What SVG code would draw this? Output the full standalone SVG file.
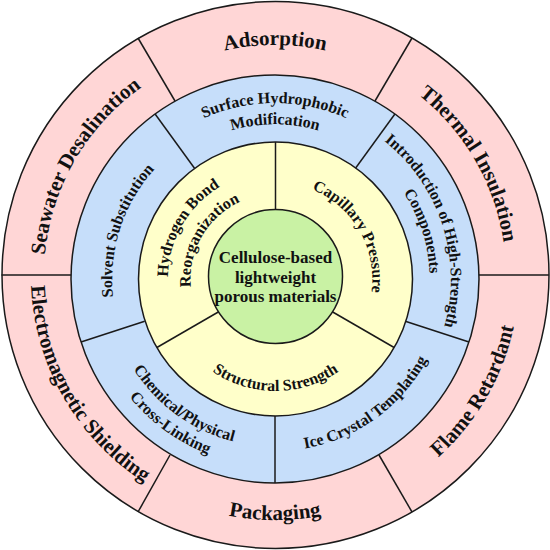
<svg xmlns="http://www.w3.org/2000/svg" xmlns:xlink="http://www.w3.org/1999/xlink" width="550" height="550" viewBox="0 0 550 550">
  <style>
    .ring { stroke: #1a1a1a; stroke-width: 1.5; }
    .pink { fill: #FFD6D6; }
    .blue { fill: #C6DEFA; }
    .yellow { fill: #FFFFCA; }
    .green { fill: #C9F2A4; }
    .div { stroke: #1a1a1a; stroke-width: 1.5; fill: none; }
    text { font-family: "Liberation Serif", "Times New Roman", serif; font-weight: bold; fill: #111; text-anchor: middle; }
    .t21 { font-size: 21px; }
    .t16 { font-size: 16px; }
    .t17 { font-size: 17px; }
  </style>
  <defs>
    <path id="p231cw" d="M -227.5 -40.1 A 231 231 0 0 1 227.5 -40.1"/>
    <path id="p244ccw" d="M -240.3 42.4 A 244 244 0 0 0 240.3 42.4"/>
    <path id="p176cw" d="M -173.3 -30.6 A 176 176 0 0 1 173.3 -30.6"/>
    <path id="p155cw" d="M -152.6 -26.9 A 155 155 0 0 1 152.6 -26.9"/>
    <path id="p163cw" d="M -160.5 -28.3 A 163 163 0 0 1 160.5 -28.3"/>
    <path id="p172ccw" d="M -169.4 29.9 A 172 172 0 0 0 169.4 29.9"/>
    <path id="p167ccw" d="M -165.0 29.1 A 167.5 167.5 0 0 0 165.0 29.1"/>
    <path id="p187ccw" d="M -184.6 32.6 A 187.5 187.5 0 0 0 184.6 32.6"/>
    <path id="p107cw" d="M -105.9 -18.7 A 107.5 107.5 0 0 1 105.9 -18.7"/>
    <path id="p85cw" d="M -83.7 -14.8 A 85 85 0 0 1 83.7 -14.8"/>
    <path id="p97cw" d="M -95.5 -16.8 A 97 97 0 0 1 95.5 -16.8"/>
    <path id="p112ccw" d="M -110.3 19.4 A 112 112 0 0 0 110.3 19.4"/>
  </defs>

  <!-- Outer ring: applications -->
  <g id="ring-applications">
    <circle class="ring pink" cx="275.5" cy="275" r="273.5"/>
    <line class="div" x1="1.5" y1="275" x2="72" y2="275"/>
    <line class="div" x1="478" y1="275" x2="549" y2="275"/>
    <line class="div" x1="138" y1="38" x2="175" y2="101"/>
    <line class="div" x1="412" y1="38" x2="375" y2="101"/>
    <line class="div" x1="379" y1="455" x2="412" y2="512"/>
    <line class="div" x1="170" y1="455" x2="138" y2="512"/>
  </g>

  <!-- Middle ring: strategies -->
  <g id="ring-strategies">
    <circle class="ring blue" cx="275" cy="279" r="204"/>
    <line class="div" x1="194.5" y1="168.2" x2="155.1" y2="114"/>
    <line class="div" x1="355.5" y1="168.2" x2="394.9" y2="114"/>
    <line class="div" x1="405.3" y1="321.3" x2="469" y2="342"/>
    <line class="div" x1="275" y1="416" x2="275" y2="483"/>
    <line class="div" x1="144.7" y1="321.3" x2="81" y2="342"/>
  </g>

  <!-- Inner ring: mechanisms -->
  <g id="ring-mechanisms">
    <circle class="ring yellow" cx="275.5" cy="279" r="137"/>
    <line class="div" x1="275.5" y1="142" x2="275.5" y2="214"/>
    <line class="div" x1="331" y1="311" x2="394.1" y2="347.5"/>
    <line class="div" x1="220" y1="311" x2="156.9" y2="347.5"/>
  </g>

  <!-- Core -->
  <g id="core">
    <circle class="ring green" cx="275.5" cy="276.5" r="67"/>
    <text class="t17" x="275.5" y="263">Cellulose-based</text>
    <text class="t17" x="275.5" y="282.5">lightweight</text>
    <text class="t17" x="275.5" y="302">porous materials</text>
  </g>

  <!-- Application labels -->
  <g id="app-seawater" transform="translate(275,276) rotate(-60)">
    <text class="t21"><textPath href="#p231cw" xlink:href="#p231cw" startOffset="50%">Seawater Desalination</textPath></text>
  </g>
  <g id="app-adsorption" transform="translate(275,276)">
    <text class="t21"><textPath href="#p231cw" xlink:href="#p231cw" startOffset="50%">Adsorption</textPath></text>
  </g>
  <g id="app-thermal" transform="translate(275,276) rotate(60)">
    <text class="t21"><textPath href="#p231cw" xlink:href="#p231cw" startOffset="50%">Thermal Insulation</textPath></text>
  </g>
  <g id="app-flame" transform="translate(275,276) rotate(-60)">
    <text class="t21"><textPath href="#p244ccw" xlink:href="#p244ccw" startOffset="50%">Flame Retardant</textPath></text>
  </g>
  <g id="app-packaging" transform="translate(275,276)">
    <text class="t21"><textPath href="#p244ccw" xlink:href="#p244ccw" startOffset="50%">Packaging</textPath></text>
  </g>
  <g id="app-em" transform="translate(275,276) rotate(60)">
    <text class="t21"><textPath href="#p244ccw" xlink:href="#p244ccw" startOffset="50%">Electromagnetic Shielding</textPath></text>
  </g>

  <!-- Strategy labels -->
  <g id="str-surface" transform="translate(275,279)">
    <text class="t16"><textPath href="#p176cw" xlink:href="#p176cw" startOffset="50%">Surface Hydrophobic</textPath></text>
    <text class="t16"><textPath href="#p155cw" xlink:href="#p155cw" startOffset="50%">Modification</textPath></text>
  </g>
  <g id="str-introduction" transform="translate(275,279) rotate(72)">
    <text class="t16"><textPath href="#p176cw" xlink:href="#p176cw" startOffset="50%">Introduction of High-Strength</textPath></text>
    <text class="t16"><textPath href="#p155cw" xlink:href="#p155cw" startOffset="50%">Components</textPath></text>
  </g>
  <g id="str-ice" transform="translate(275,279) rotate(-36)">
    <text class="t16"><textPath href="#p172ccw" xlink:href="#p172ccw" startOffset="50%">Ice Crystal Templating</textPath></text>
  </g>
  <g id="str-crosslink" transform="translate(275,279) rotate(36)">
    <text class="t16"><textPath href="#p167ccw" xlink:href="#p167ccw" startOffset="50%">Chemical/Physical</textPath></text>
    <text class="t16"><textPath href="#p187ccw" xlink:href="#p187ccw" startOffset="50%">Cross-Linking</textPath></text>
  </g>
  <g id="str-solvent" transform="translate(275,279) rotate(-72)">
    <text class="t16"><textPath href="#p163cw" xlink:href="#p163cw" startOffset="50%">Solvent Substitution</textPath></text>
  </g>

  <!-- Mechanism labels -->
  <g id="mech-hydrogen" transform="translate(275.5,279) rotate(-60)">
    <text class="t16"><textPath href="#p107cw" xlink:href="#p107cw" startOffset="50%">Hydrogen Bond</textPath></text>
    <text class="t16"><textPath href="#p85cw" xlink:href="#p85cw" startOffset="50%">Reorganization</textPath></text>
  </g>
  <g id="mech-capillary" transform="translate(275.5,279) rotate(60)">
    <text class="t16"><textPath href="#p97cw" xlink:href="#p97cw" startOffset="50%">Capillary Pressure</textPath></text>
  </g>
  <g id="mech-structural" transform="translate(275.5,279)">
    <text class="t16"><textPath href="#p112ccw" xlink:href="#p112ccw" startOffset="50%">Structural Strength</textPath></text>
  </g>
</svg>
